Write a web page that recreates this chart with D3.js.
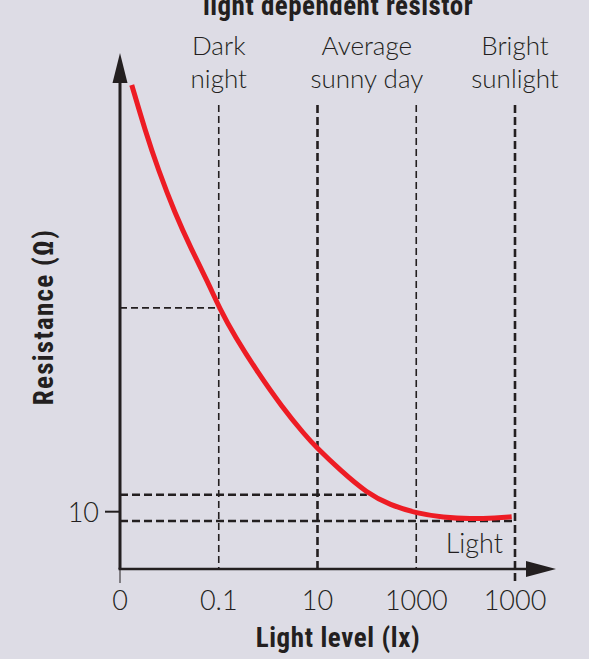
<!DOCTYPE html>
<html>
<head>
<meta charset="utf-8">
<script src="https://cdn.jsdelivr.net/npm/d3@7"></script>
<style>
  body { margin: 0; background: #dddce5; }
  svg { display: block; }
</style>
</head>
<body>
<svg id="chart" width="589" height="659"></svg>
<script>
// curve of the light dependent resistor
var lightLux = [0.00173, 0.00321, 0.00597, 0.013, 0.0283, 0.0614, 0.1026, 0.213, 0.632, 1.88, 5.58, 9.77, 28.6, 100, 294, 1020, 3530, 12270, 42600, 85700];
var resistance = [85.8, 77.8, 70.7, 63.0, 56.5, 50.6, 46.2, 41.1, 34.6, 28.7, 23.6, 21.3, 17.4, 13.3, 11.2, 9.7, 9.0, 8.7, 8.9, 9.1];

// x ticks (the "0" sits at the lowest decade)
var tickValues = [0.001, 0.1, 10, 1000, 100000];
var tickLabels = ["0", "0.1", "10", "1000", "1000"];
var yTickValues = [10];
var yTickLabels = ["10"];

// light conditions above the plot
var conditionNames = [["Dark", "night"], ["Average", "sunny day"], ["Bright", "sunlight"]];
var conditionLux = [0.1, 100, 100000];

// dashed guides
var guideLux = [0.1, 10, 1000, 100000];
var guideThick = [false, true, false, true];
var levelR = [46.2, 13.0, 8.35];
var levelToLux = [0.1, 100, 100000];
var levelThick = [false, true, true];

var ink = "#231f20";
var lightFont = "Lato, 'Open Sans', sans-serif";
var boldFont = "'Liberation Sans Narrow', 'Roboto Condensed', sans-serif";

var svg = d3.select("#chart");

var x = d3.scaleLog().domain([0.001, 100000]).range([120, 515]);
var y = d3.scaleLinear().domain([0, 100]).range([568, 5]);

// title, cut by the top edge like the original
svg.append("text")
  .attr("x", 338).attr("y", 15)
  .attr("text-anchor", "middle")
  .style("font-family", boldFont)
  .style("font-weight", "bold")
  .style("font-size", "27px")
  .style("letter-spacing", "0.5px")
  .style("fill", ink)
  .text("light dependent resistor");

// vertical dashed guides
svg.selectAll("line.vguide")
  .data(guideLux)
  .enter().append("line")
  .attr("class", "vguide")
  .attr("x1", d => x(d)).attr("x2", d => x(d))
  .attr("y1", 105)
  .attr("y2", (d, i) => i == guideLux.length - 1 ? 583 : 568)
  .attr("stroke", ink)
  .attr("stroke-width", (d, i) => guideThick[i] ? 2.6 : 1.6)
  .attr("stroke-dasharray", (d, i) => guideThick[i] ? "8,4" : "7,4");

// horizontal dashed guides
svg.selectAll("line.hguide")
  .data(levelR)
  .enter().append("line")
  .attr("class", "hguide")
  .attr("x1", 120)
  .attr("x2", (d, i) => x(levelToLux[i]))
  .attr("y1", d => y(d)).attr("y2", d => y(d))
  .attr("stroke", ink)
  .attr("stroke-width", (d, i) => levelThick[i] ? 2.6 : 1.6)
  .attr("stroke-dasharray", (d, i) => levelThick[i] ? "8,4" : "7,4");

// condition labels
conditionNames.forEach(function (lines, i) {
  var t = svg.append("text")
    .attr("text-anchor", "middle")
    .style("font-family", lightFont)
    .style("font-weight", "300")
    .style("font-size", "26px")
    .style("fill", ink);
  lines.forEach(function (s, j) {
    t.append("tspan")
      .attr("x", x(conditionLux[i]))
      .attr("y", 55 + j * 33)
      .text(s);
  });
});

// the curve
var pts = lightLux.map((d, i) => [d, resistance[i]]);
svg.append("path")
  .datum(pts)
  .attr("fill", "none")
  .attr("stroke", "#ed1c24")
  .attr("stroke-width", 5)
  .attr("d", d3.line()
    .x(d => x(d[0]))
    .y(d => y(d[1]))
    .curve(d3.curveBasis));

// axes
svg.append("line")
  .attr("x1", 120).attr("x2", 120)
  .attr("y1", 569).attr("y2", 80)
  .attr("stroke", ink).attr("stroke-width", 3);
svg.append("path")
  .attr("d", "M112.5,83 L120,53 L127.5,83 Z")
  .attr("fill", ink);
svg.append("line")
  .attr("x1", 118.5).attr("x2", 530)
  .attr("y1", 569).attr("y2", 569)
  .attr("stroke", ink).attr("stroke-width", 2.5);
svg.append("path")
  .attr("d", "M526,561 L556,569 L526,577 Z")
  .attr("fill", ink);

// x tick below the axis at the origin
svg.append("line")
  .attr("x1", x(tickValues[0])).attr("x2", x(tickValues[0]))
  .attr("y1", 570).attr("y2", 583)
  .attr("stroke", ink).attr("stroke-width", 1);

svg.selectAll("text.xtick")
  .data(tickValues)
  .enter().append("text")
  .attr("class", "xtick")
  .attr("x", d => x(d))
  .attr("y", 610)
  .attr("text-anchor", "middle")
  .style("font-family", lightFont)
  .style("font-weight", "300")
  .style("font-size", "27px")
  .style("fill", ink)
  .text((d, i) => tickLabels[i]);

// y tick
svg.selectAll("line.ytick")
  .data(yTickValues)
  .enter().append("line")
  .attr("x1", 105).attr("x2", 119)
  .attr("y1", d => y(d)).attr("y2", d => y(d))
  .attr("stroke", ink).attr("stroke-width", 2);
svg.selectAll("text.ytick")
  .data(yTickValues)
  .enter().append("text")
  .attr("x", 99)
  .attr("y", d => y(d) + 10)
  .attr("text-anchor", "end")
  .style("font-family", lightFont)
  .style("font-weight", "300")
  .style("font-size", "27px")
  .style("fill", ink)
  .text((d, i) => yTickLabels[i]);

// "Light" label
svg.append("text")
  .attr("x", 503).attr("y", 553)
  .attr("text-anchor", "end")
  .style("font-family", lightFont)
  .style("font-weight", "300")
  .style("font-size", "27px")
  .style("fill", ink)
  .text("Light");

// axis titles
svg.append("text")
  .attr("x", 338).attr("y", 647)
  .attr("text-anchor", "middle")
  .style("font-family", boldFont)
  .style("font-weight", "bold")
  .style("font-size", "27px")
  .style("letter-spacing", "0.6px")
  .style("fill", ink)
  .text("Light level (lx)");

svg.append("text")
  .attr("transform", "translate(53,317) rotate(-90)")
  .attr("text-anchor", "middle")
  .style("font-family", boldFont)
  .style("font-weight", "bold")
  .style("font-size", "27px")
  .style("letter-spacing", "1.3px")
  .style("fill", ink)
  .text("Resistance (Ω)");
</script>
</body>
</html>
